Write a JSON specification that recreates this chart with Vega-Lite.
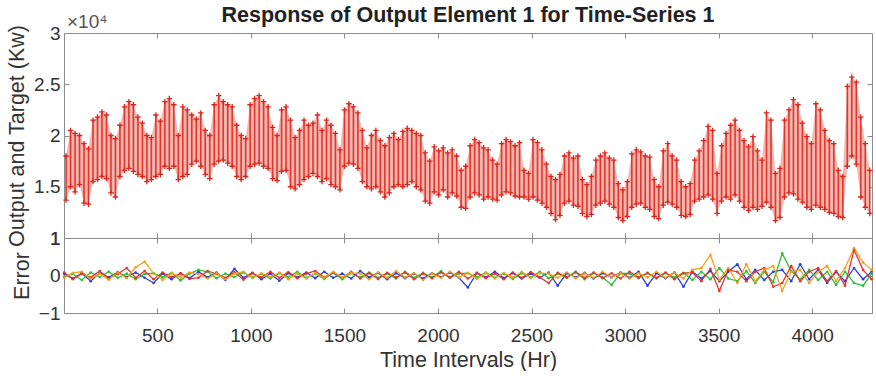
{
  "$schema": "https://vega.github.io/schema/vega-lite/v6.json",
  "padding": {"left": 6, "top": 4, "right": 0, "bottom": 0},
  "background": "white",
  "spacing": 0,
  "bounds": "flush",
  "config": {
    "font": "Liberation Sans",
    "view": {"stroke": "#8c8c8c", "strokeWidth": 1},
    "axis": {"labelFontSize": 19, "titleFontSize": 21.5, "labelColor": "#333333", "titleColor": "#333333", "titleFontWeight": "normal", "tickColor": "#8c8c8c", "domain": false, "grid": false, "labelPadding": 9, "titlePadding": 5, "labelFont": "Liberation Sans", "titleFont": "Liberation Sans", "labelOverlap": false}
  },
  "datasets": {
    "load": [
      {"h":12,"hi":1.80,"lo":1.37},{"h":36,"hi":2.05,"lo":1.50},{"h":60,"hi":2.02,"lo":1.45},{"h":84,"hi":2.00,"lo":1.52},{"h":108,"hi":1.92,"lo":1.34},{"h":132,"hi":1.87,"lo":1.33},{"h":156,"hi":2.15,"lo":1.55},{"h":180,"hi":2.18,"lo":1.57},{"h":204,"hi":2.23,"lo":1.60},{"h":228,"hi":2.20,"lo":1.58},
      {"h":252,"hi":2.00,"lo":1.44},{"h":276,"hi":1.97,"lo":1.40},{"h":300,"hi":2.10,"lo":1.60},{"h":324,"hi":2.28,"lo":1.66},{"h":348,"hi":2.33,"lo":1.68},{"h":372,"hi":2.30,"lo":1.65},{"h":396,"hi":2.18,"lo":1.62},{"h":420,"hi":2.12,"lo":1.60},{"h":444,"hi":2.00,"lo":1.55},{"h":468,"hi":1.98,"lo":1.57},
      {"h":492,"hi":2.20,"lo":1.60},{"h":516,"hi":2.14,"lo":1.62},{"h":540,"hi":2.33,"lo":1.70},{"h":564,"hi":2.36,"lo":1.68},{"h":588,"hi":2.30,"lo":1.70},{"h":612,"hi":2.00,"lo":1.57},{"h":636,"hi":2.28,"lo":1.60},{"h":660,"hi":2.25,"lo":1.62},{"h":684,"hi":2.20,"lo":1.72},{"h":708,"hi":2.16,"lo":1.75},
      {"h":732,"hi":2.22,"lo":1.70},{"h":756,"hi":2.05,"lo":1.62},{"h":780,"hi":2.00,"lo":1.58},{"h":804,"hi":2.30,"lo":1.72},{"h":828,"hi":2.39,"lo":1.75},{"h":852,"hi":2.33,"lo":1.76},{"h":876,"hi":2.30,"lo":1.73},{"h":900,"hi":2.28,"lo":1.70},{"h":924,"hi":2.10,"lo":1.60},{"h":948,"hi":2.00,"lo":1.57},
      {"h":972,"hi":1.97,"lo":1.60},{"h":996,"hi":2.30,"lo":1.70},{"h":1020,"hi":2.36,"lo":1.72},{"h":1044,"hi":2.39,"lo":1.73},{"h":1068,"hi":2.33,"lo":1.70},{"h":1092,"hi":2.28,"lo":1.68},{"h":1116,"hi":2.08,"lo":1.58},{"h":1140,"hi":2.00,"lo":1.56},{"h":1164,"hi":2.25,"lo":1.65},{"h":1188,"hi":2.28,"lo":1.66},
      {"h":1212,"hi":2.15,"lo":1.50},{"h":1236,"hi":1.98,"lo":1.48},{"h":1260,"hi":2.05,"lo":1.52},{"h":1284,"hi":2.15,"lo":1.57},{"h":1308,"hi":2.10,"lo":1.60},{"h":1332,"hi":2.12,"lo":1.63},{"h":1356,"hi":2.20,"lo":1.60},{"h":1380,"hi":2.05,"lo":1.55},{"h":1404,"hi":2.15,"lo":1.58},{"h":1428,"hi":2.10,"lo":1.52},
      {"h":1452,"hi":2.02,"lo":1.50},{"h":1476,"hi":1.86,"lo":1.47},{"h":1500,"hi":2.25,"lo":1.70},{"h":1524,"hi":2.31,"lo":1.73},{"h":1548,"hi":2.28,"lo":1.72},{"h":1572,"hi":2.22,"lo":1.68},{"h":1596,"hi":2.05,"lo":1.55},{"h":1620,"hi":1.88,"lo":1.50},{"h":1644,"hi":2.00,"lo":1.48},{"h":1668,"hi":2.05,"lo":1.50},
      {"h":1692,"hi":1.95,"lo":1.45},{"h":1716,"hi":1.90,"lo":1.40},{"h":1740,"hi":1.98,"lo":1.44},{"h":1764,"hi":2.02,"lo":1.50},{"h":1788,"hi":1.96,"lo":1.52},{"h":1812,"hi":2.04,"lo":1.50},{"h":1836,"hi":2.07,"lo":1.52},{"h":1860,"hi":2.05,"lo":1.55},{"h":1884,"hi":2.02,"lo":1.50},{"h":1908,"hi":2.00,"lo":1.47},
      {"h":1932,"hi":1.83,"lo":1.36},{"h":1956,"hi":1.75,"lo":1.34},{"h":1980,"hi":1.89,"lo":1.45},{"h":2004,"hi":1.85,"lo":1.42},{"h":2028,"hi":1.88,"lo":1.47},{"h":2052,"hi":1.83,"lo":1.40},{"h":2076,"hi":1.86,"lo":1.44},{"h":2100,"hi":1.80,"lo":1.41},{"h":2124,"hi":1.66,"lo":1.30},{"h":2148,"hi":1.70,"lo":1.29},
      {"h":2172,"hi":1.90,"lo":1.40},{"h":2196,"hi":1.96,"lo":1.44},{"h":2220,"hi":1.93,"lo":1.42},{"h":2244,"hi":1.88,"lo":1.38},{"h":2268,"hi":1.86,"lo":1.40},{"h":2292,"hi":1.76,"lo":1.38},{"h":2316,"hi":1.72,"lo":1.37},{"h":2340,"hi":1.92,"lo":1.42},{"h":2364,"hi":1.96,"lo":1.45},{"h":2388,"hi":1.94,"lo":1.44},
      {"h":2412,"hi":1.90,"lo":1.41},{"h":2436,"hi":1.93,"lo":1.40},{"h":2460,"hi":1.66,"lo":1.40},{"h":2484,"hi":1.63,"lo":1.38},{"h":2508,"hi":1.96,"lo":1.40},{"h":2532,"hi":1.93,"lo":1.37},{"h":2556,"hi":1.86,"lo":1.34},{"h":2580,"hi":1.72,"lo":1.30},{"h":2604,"hi":1.60,"lo":1.24},{"h":2628,"hi":1.57,"lo":1.18},
      {"h":2652,"hi":1.62,"lo":1.22},{"h":2676,"hi":1.80,"lo":1.34},{"h":2700,"hi":1.83,"lo":1.36},{"h":2724,"hi":1.78,"lo":1.32},{"h":2748,"hi":1.80,"lo":1.31},{"h":2772,"hi":1.57,"lo":1.24},{"h":2796,"hi":1.52,"lo":1.21},{"h":2820,"hi":1.60,"lo":1.23},{"h":2844,"hi":1.76,"lo":1.32},{"h":2868,"hi":1.80,"lo":1.34},
      {"h":2892,"hi":1.83,"lo":1.36},{"h":2916,"hi":1.78,"lo":1.33},{"h":2940,"hi":1.76,"lo":1.30},{"h":2964,"hi":1.53,"lo":1.20},{"h":2988,"hi":1.47,"lo":1.17},{"h":3012,"hi":1.55,"lo":1.21},{"h":3036,"hi":1.82,"lo":1.30},{"h":3060,"hi":1.86,"lo":1.33},{"h":3084,"hi":1.84,"lo":1.34},{"h":3108,"hi":1.80,"lo":1.30},
      {"h":3132,"hi":1.79,"lo":1.28},{"h":3156,"hi":1.57,"lo":1.21},{"h":3180,"hi":1.50,"lo":1.19},{"h":3204,"hi":1.85,"lo":1.32},{"h":3228,"hi":1.92,"lo":1.35},{"h":3252,"hi":1.80,"lo":1.33},{"h":3276,"hi":1.76,"lo":1.30},{"h":3300,"hi":1.55,"lo":1.22},{"h":3324,"hi":1.50,"lo":1.21},{"h":3348,"hi":1.53,"lo":1.23},
      {"h":3372,"hi":1.76,"lo":1.36},{"h":3396,"hi":1.85,"lo":1.38},{"h":3420,"hi":1.95,"lo":1.40},{"h":3444,"hi":2.09,"lo":1.42},{"h":3468,"hi":2.05,"lo":1.38},{"h":3492,"hi":1.63,"lo":1.24},{"h":3516,"hi":1.90,"lo":1.36},{"h":3540,"hi":2.02,"lo":1.40},{"h":3564,"hi":2.10,"lo":1.38},{"h":3588,"hi":2.15,"lo":1.42},
      {"h":3612,"hi":2.05,"lo":1.36},{"h":3636,"hi":1.95,"lo":1.30},{"h":3660,"hi":1.89,"lo":1.27},{"h":3684,"hi":1.99,"lo":1.30},{"h":3708,"hi":1.85,"lo":1.28},{"h":3732,"hi":1.76,"lo":1.31},{"h":3756,"hi":2.22,"lo":1.35},{"h":3780,"hi":2.15,"lo":1.30},{"h":3804,"hi":1.63,"lo":1.17},{"h":3828,"hi":1.68,"lo":1.20},
      {"h":3852,"hi":2.15,"lo":1.40},{"h":3876,"hi":2.25,"lo":1.44},{"h":3900,"hi":2.35,"lo":1.43},{"h":3924,"hi":2.30,"lo":1.38},{"h":3948,"hi":2.12,"lo":1.35},{"h":3972,"hi":1.99,"lo":1.30},{"h":3996,"hi":1.92,"lo":1.28},{"h":4020,"hi":2.31,"lo":1.32},{"h":4044,"hi":2.25,"lo":1.30},{"h":4068,"hi":2.05,"lo":1.28},
      {"h":4092,"hi":1.95,"lo":1.25},{"h":4116,"hi":1.92,"lo":1.24},{"h":4140,"hi":1.66,"lo":1.21},{"h":4164,"hi":1.60,"lo":1.20},{"h":4188,"hi":2.48,"lo":1.70},{"h":4212,"hi":2.57,"lo":1.80},{"h":4236,"hi":2.52,"lo":1.72},{"h":4260,"hi":2.18,"lo":1.40},{"h":4284,"hi":1.92,"lo":1.30},{"h":4308,"hi":1.66,"lo":1.24}
    ],
    "err": [
      {"h":2,"b":0.05,"g":-0.03,"r":0.08,"o":-0.06},{"h":48,"b":-0.08,"g":0.04,"r":-0.1,"o":0.07},{"h":96,"b":0.06,"g":-0.12,"r":0.05,"o":0.1},{"h":144,"b":-0.15,"g":0.08,"r":-0.05,"o":-0.09},{"h":192,"b":0.07,"g":-0.04,"r":0.12,"o":0.05},
      {"h":240,"b":-0.05,"g":0.1,"r":-0.08,"o":-0.11},{"h":288,"b":0.09,"g":-0.06,"r":0.04,"o":0.08},{"h":336,"b":-0.04,"g":0.05,"r":0.2,"o":-0.07},{"h":384,"b":0.08,"g":-0.1,"r":-0.06,"o":0.22},{"h":432,"b":-0.06,"g":0.04,"r":0.12,"o":0.37},
      {"h":480,"b":-0.2,"g":0.06,"r":-0.1,"o":0.05},{"h":528,"b":0.05,"g":-0.05,"r":0.08,"o":-0.12},{"h":576,"b":-0.1,"g":0.07,"r":-0.04,"o":0.06},{"h":624,"b":0.06,"g":-0.13,"r":0.05,"o":-0.05},{"h":672,"b":-0.07,"g":0.05,"r":-0.09,"o":0.08},
      {"h":720,"b":0.1,"g":0.15,"r":-0.06,"o":0.04},{"h":768,"b":-0.05,"g":0.1,"r":0.12,"o":-0.08},{"h":816,"b":0.08,"g":-0.07,"r":0.04,"o":0.06},{"h":864,"b":-0.12,"g":0.05,"r":-0.06,"o":-0.1},{"h":912,"b":0.18,"g":-0.04,"r":0.09,"o":0.05},
      {"h":960,"b":-0.06,"g":0.08,"r":-0.11,"o":0.1},{"h":1008,"b":0.07,"g":-0.05,"r":0.06,"o":-0.07},{"h":1056,"b":-0.1,"g":0.04,"r":-0.05,"o":0.06},{"h":1104,"b":0.05,"g":-0.08,"r":0.1,"o":-0.04},{"h":1152,"b":-0.14,"g":0.06,"r":-0.06,"o":0.08},
      {"h":1200,"b":0.06,"g":-0.04,"r":0.09,"o":-0.1},{"h":1248,"b":-0.05,"g":0.1,"r":-0.07,"o":0.05},{"h":1296,"b":0.08,"g":-0.06,"r":0.05,"o":-0.08},{"h":1344,"b":-0.07,"g":0.05,"r":0.12,"o":0.06},{"h":1392,"b":0.1,"g":-0.09,"r":-0.05,"o":-0.06},
      {"h":1440,"b":-0.06,"g":0.07,"r":0.08,"o":0.1},{"h":1488,"b":0.05,"g":-0.1,"r":-0.06,"o":-0.05},{"h":1536,"b":-0.08,"g":0.06,"r":0.1,"o":0.07},{"h":1584,"b":0.12,"g":-0.05,"r":-0.08,"o":0.05},{"h":1632,"b":-0.05,"g":0.08,"r":0.06,"o":-0.1},
      {"h":1680,"b":0.07,"g":-0.06,"r":-0.09,"o":0.08},{"h":1728,"b":-0.1,"g":0.05,"r":0.07,"o":-0.06},{"h":1776,"b":0.06,"g":-0.08,"r":-0.05,"o":0.12},{"h":1824,"b":-0.07,"g":0.1,"r":0.08,"o":-0.05},{"h":1872,"b":0.05,"g":-0.06,"r":-0.1,"o":0.06},
      {"h":1920,"b":-0.08,"g":0.07,"r":0.05,"o":-0.12},{"h":1968,"b":0.06,"g":-0.05,"r":-0.07,"o":0.05},{"h":2016,"b":-0.04,"g":0.12,"r":0.08,"o":-0.06},{"h":2064,"b":0.08,"g":-0.06,"r":-0.05,"o":0.1},{"h":2112,"b":-0.06,"g":0.05,"r":0.1,"o":-0.05},
      {"h":2160,"b":-0.32,"g":0.06,"r":-0.08,"o":0.07},{"h":2208,"b":0.07,"g":-0.05,"r":0.06,"o":-0.09},{"h":2256,"b":-0.05,"g":0.08,"r":-0.07,"o":0.06},{"h":2304,"b":0.1,"g":-0.06,"r":0.05,"o":-0.08},{"h":2352,"b":-0.07,"g":0.05,"r":-0.1,"o":0.06},
      {"h":2400,"b":0.06,"g":-0.09,"r":0.08,"o":-0.05},{"h":2448,"b":-0.08,"g":0.06,"r":-0.06,"o":0.1},{"h":2496,"b":0.05,"g":-0.05,"r":0.09,"o":-0.07},{"h":2544,"b":-0.06,"g":0.1,"r":-0.05,"o":0.06},{"h":2592,"b":0.08,"g":-0.07,"r":-0.2,"o":0.05},
      {"h":2640,"b":-0.27,"g":0.05,"r":0.07,"o":-0.06},{"h":2688,"b":0.06,"g":-0.06,"r":-0.05,"o":0.08},{"h":2736,"b":-0.05,"g":0.08,"r":0.1,"o":-0.07},{"h":2784,"b":0.07,"g":-0.1,"r":-0.06,"o":0.05},{"h":2832,"b":-0.08,"g":0.06,"r":0.08,"o":-0.06},
      {"h":2880,"b":0.06,"g":-0.05,"r":-0.07,"o":0.1},{"h":2928,"b":-0.05,"g":-0.25,"r":0.06,"o":-0.05},{"h":2976,"b":0.08,"g":0.06,"r":-0.08,"o":0.06},{"h":3024,"b":-0.06,"g":0.05,"r":0.1,"o":-0.08},{"h":3072,"b":0.1,"g":-0.07,"r":-0.05,"o":0.06},
      {"h":3120,"b":-0.27,"g":0.06,"r":0.07,"o":-0.05},{"h":3168,"b":0.06,"g":-0.08,"r":-0.06,"o":0.1},{"h":3216,"b":-0.07,"g":0.06,"r":0.08,"o":-0.06},{"h":3264,"b":0.08,"g":-0.05,"r":-0.1,"o":0.07},{"h":3312,"b":-0.3,"g":0.07,"r":0.06,"o":-0.08},
      {"h":3360,"b":0.1,"g":-0.12,"r":0.08,"o":0.15},{"h":3408,"b":-0.08,"g":0.1,"r":-0.15,"o":0.2},{"h":3456,"b":0.12,"g":-0.1,"r":0.18,"o":0.55},{"h":3504,"b":-0.15,"g":0.2,"r":-0.41,"o":-0.12},{"h":3552,"b":0.1,"g":-0.08,"r":0.15,"o":0.2},
      {"h":3600,"b":0.3,"g":-0.15,"r":0.1,"o":-0.2},{"h":3648,"b":-0.1,"g":0.12,"r":-0.15,"o":0.3},{"h":3696,"b":0.15,"g":-0.2,"r":0.1,"o":-0.15},{"h":3744,"b":-0.12,"g":0.1,"r":0.2,"o":0.15},{"h":3792,"b":0.1,"g":-0.18,"r":-0.3,"o":0.25},
      {"h":3840,"b":0.15,"g":0.59,"r":-0.2,"o":-0.41},{"h":3888,"b":-0.15,"g":0.12,"r":0.25,"o":0.1},{"h":3936,"b":0.3,"g":-0.1,"r":-0.15,"o":0.15},{"h":3984,"b":-0.1,"g":0.15,"r":0.1,"o":-0.2},{"h":4032,"b":0.15,"g":-0.12,"r":0.2,"o":0.1},
      {"h":4080,"b":-0.2,"g":0.1,"r":-0.15,"o":0.25},{"h":4128,"b":0.1,"g":-0.25,"r":0.12,"o":-0.15},{"h":4176,"b":-0.15,"g":0.1,"r":-0.27,"o":0.2},{"h":4224,"b":0.2,"g":-0.2,"r":0.68,"o":0.73},{"h":4272,"b":-0.1,"g":-0.27,"r":0.15,"o":0.35},
      {"h":4318,"b":0.1,"g":0.05,"r":-0.1,"o":0.15}
    ]
  },
  "vconcat": [
    {
      "width": 808,
      "height": 205,
      "title": {"text": "Response of Output Element 1 for Time-Series 1", "frame": "group", "anchor": "middle", "fontSize": 21.5, "fontWeight": "bold", "font": "Liberation Sans", "color": "#222222", "offset": -13},
      "data": {"name": "load"},
      "layer": [
        {
          "mark": {"type": "area", "color": "#f4aea7", "opacity": 0.9},
          "encoding": {
            "x": {"field": "h", "type": "quantitative", "scale": {"domain": [1, 4320], "nice": false, "zero": false}, "axis": {"orient": "bottom", "values": [500, 1000, 1500, 2000, 2500, 3000, 3500, 4000], "labels": false, "tickSize": -5, "title": null, "labelPadding": 0}},
            "y": {"field": "lo", "type": "quantitative", "scale": {"domain": [1, 3], "nice": false, "zero": false}, "axis": {"orient": "left", "values": [1, 1.5, 2, 2.5, 3], "format": "~g", "tickSize": -5, "title": "Output and Target (Kw)"}},
            "y2": {"field": "hi"}
          }
        },
        {
          "mark": {"type": "rule", "color": "#e3352b", "strokeWidth": 1.6},
          "encoding": {
            "x": {"field": "h", "type": "quantitative", "axis": null},
            "y": {"field": "lo", "type": "quantitative", "axis": null},
            "y2": {"field": "hi"}
          }
        },
        {
          "transform": [{"fold": ["lo", "hi"], "as": ["k", "v"]}],
          "mark": {"type": "point", "shape": "M-1,0H1M0,-1V1", "filled": false, "color": "#d8261d", "strokeWidth": 1.3, "size": 30, "opacity": 1},
          "encoding": {
            "x": {"field": "h", "type": "quantitative", "axis": null},
            "y": {"field": "v", "type": "quantitative", "axis": null}
          }
        },
        {
          "data": {"values": [{"t": "×10⁴", "x": 1, "y": 3}]},
          "mark": {"type": "text", "align": "left", "baseline": "alphabetic", "dx": 3, "dy": -5, "fontSize": 19, "color": "#555555", "font": "Liberation Sans"},
          "encoding": {
            "x": {"field": "x", "type": "quantitative", "axis": null},
            "y": {"field": "y", "type": "quantitative", "axis": null},
            "text": {"field": "t"}
          }
        },
        {
          "mark": {"type": "point", "opacity": 0},
          "encoding": {
            "x": {"field": "h", "type": "quantitative", "axis": {"orient": "top", "values": [500, 1000, 1500, 2000, 2500, 3000, 3500, 4000], "labels": false, "tickSize": -5, "title": null, "labelPadding": 0}},
            "y": {"field": "lo", "type": "quantitative", "axis": {"orient": "right", "values": [1, 1.5, 2, 2.5, 3], "labels": false, "tickSize": -5, "title": null, "labelPadding": 0}}
          }
        }
      ],
      "resolve": {"axis": {"x": "independent", "y": "independent"}}
    },
    {
      "width": 808,
      "height": 75,
      "data": {"name": "err"},
      "transform": [{"fold": ["b", "g", "r", "o"], "as": ["s", "e"]}],
      "layer": [
        {
          "mark": {"type": "line", "strokeWidth": 1.3, "point": {"filled": true, "size": 7}},
          "encoding": {
            "x": {"field": "h", "type": "quantitative", "scale": {"domain": [1, 4320], "nice": false, "zero": false}, "axis": {"orient": "bottom", "values": [500, 1000, 1500, 2000, 2500, 3000, 3500, 4000], "format": "d", "tickSize": -5, "labelPadding": 18, "title": "Time Intervals (Hr)", "titlePadding": 4}},
            "y": {"field": "e", "type": "quantitative", "scale": {"domain": [-1, 1], "nice": false}, "axis": {"orient": "left", "values": [-1, 0, 1], "format": "~g", "tickSize": -5, "title": "Error"}},
            "color": {"field": "s", "type": "nominal", "scale": {"domain": ["b", "g", "r", "o"], "range": ["#2b3ed6", "#2dbf3a", "#e8332b", "#f5a01c"]}, "legend": null}
          }
        },
        {
          "mark": {"type": "point", "opacity": 0},
          "encoding": {
            "x": {"field": "h", "type": "quantitative", "axis": {"orient": "top", "values": [500, 1000, 1500, 2000, 2500, 3000, 3500, 4000], "labels": false, "tickSize": -5, "title": null, "labelPadding": 0}},
            "y": {"field": "e", "type": "quantitative", "axis": {"orient": "right", "values": [-1, 0, 1], "labels": false, "tickSize": -5, "title": null, "labelPadding": 0}}
          }
        }
      ],
      "resolve": {"axis": {"x": "independent", "y": "independent"}}
    }
  ]
}
